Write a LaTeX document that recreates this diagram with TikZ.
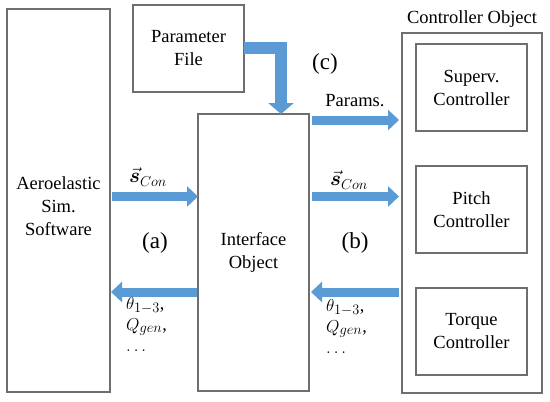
\documentclass[tikz,border=0pt]{standalone}
\usepackage{amsmath,bm}
\usepackage{fontspec}
\setmainfont{Liberation Serif}
\newfontfamily\tnr{Liberation Serif}
\DeclareMathSizes{18}{18}{14}{11}
\DeclareMathSizes{20}{20}{15}{12}
\usetikzlibrary{arrows.meta}
\definecolor{arrowblue}{HTML}{5B9BD5}
\definecolor{boxgray}{HTML}{6E6E6E}
\begin{document}
\begin{tikzpicture}[x=1pt,y=-1pt,
  box/.style={draw=boxgray,line width=1.3pt,inner sep=0pt,outer sep=0pt,align=center,
    font=\tnr\fontsize{18.5}{23}\selectfont},
  blarrow/.style={draw=arrowblue,line width=9pt,-{Triangle[width=20pt,length=11pt]}},
  bentarrow/.style={draw=arrowblue,line width=12pt,line join=miter,-{Triangle[width=25pt,length=11pt]}},
  lbl/.style={inner sep=0pt,font=\tnr\fontsize{18.5}{23}\selectfont},
  mlbl/.style={inner sep=0pt,align=left,anchor=north west,font=\fontsize{18}{21}\selectfont},
  slbl/.style={inner sep=0pt,font=\fontsize{20}{24}\selectfont},
  big/.style={inner sep=0pt,font=\tnr\fontsize{23}{25}\selectfont}]
\useasboundingbox (0,0) rectangle (550,402);
\fill[white] (0,0) rectangle (550,402);
% boxes
\node[box,minimum width=103pt,minimum height=383pt] (aero) at (58.5,200.5) {};
\node[lbl,align=center] (aerot) at (58.5,206) {Aeroelastic\\Sim.\\Software};
\node[box,minimum width=111pt,minimum height=87pt] (param) at (188.5,48.5) {Parameter\\File};
\node[box,minimum width=111pt,minimum height=277pt] (iface) at (253.5,252.5) {Interface\\Object};
\node[box,minimum width=140pt,minimum height=360pt] (ctrl) at (472,213) {};
\node[lbl] (ctrlt) at (472,19) {Controller Object};
\node[box,minimum width=111pt,minimum height=87pt] (sup) at (471.5,87.5) {Superv.\\Controller};
\node[box,minimum width=111pt,minimum height=87pt] (pitch) at (471.5,209.5) {Pitch\\Controller};
\node[box,minimum width=111pt,minimum height=87pt] (torque) at (471.5,331.5) {Torque\\Controller};
% coordinates
\coordinate (yA) at (0,196.5);
\coordinate (yP) at (0,120);
\coordinate (yB) at (0,292);
\coordinate (yC) at (0,47.5);
\coordinate (xC) at (281,0);
% arrows
\draw[blarrow,shorten <=2pt] (aero.east |- yA) -- (iface.west |- yA);
\draw[blarrow,shorten <=3pt,shorten >=3pt] (iface.east |- yA) -- (ctrl.west |- yA);
\draw[blarrow,shorten <=3pt,shorten >=3pt] (iface.east |- yP) -- (ctrl.west |- yP);
\draw[blarrow,shorten <=3pt,shorten >=2pt] (ctrl.west |- yB) -- (iface.east |- yB);
\draw[blarrow,shorten <=1pt,shorten >=1pt] (iface.west |- yB) -- (aero.east |- yB);
\draw[bentarrow] (param.east |- yC) -| (iface.north -| xC);
% labels
\node[lbl] (params) at (355,101) {Params.};
\node[slbl] (sconL) at (148,177) {$\vec{\bm{s}}_{Con}$};
\node[slbl] (sconR) at (349,180) {$\vec{\bm{s}}_{Con}$};
\node[big] (la) at (155,243) {(a)};
\node[big] (lb) at (355,243) {(b)};
\node[big] (lc) at (325,64) {(c)};
\node[mlbl] (outL) at (126,297) {$\theta_{1-3}$,\\$Q_{gen}$,\\$\dots$};
\node[mlbl] (outR) at (326,299) {$\theta_{1-3}$,\\$Q_{gen}$,\\$\dots$};
\end{tikzpicture}
\end{document}
